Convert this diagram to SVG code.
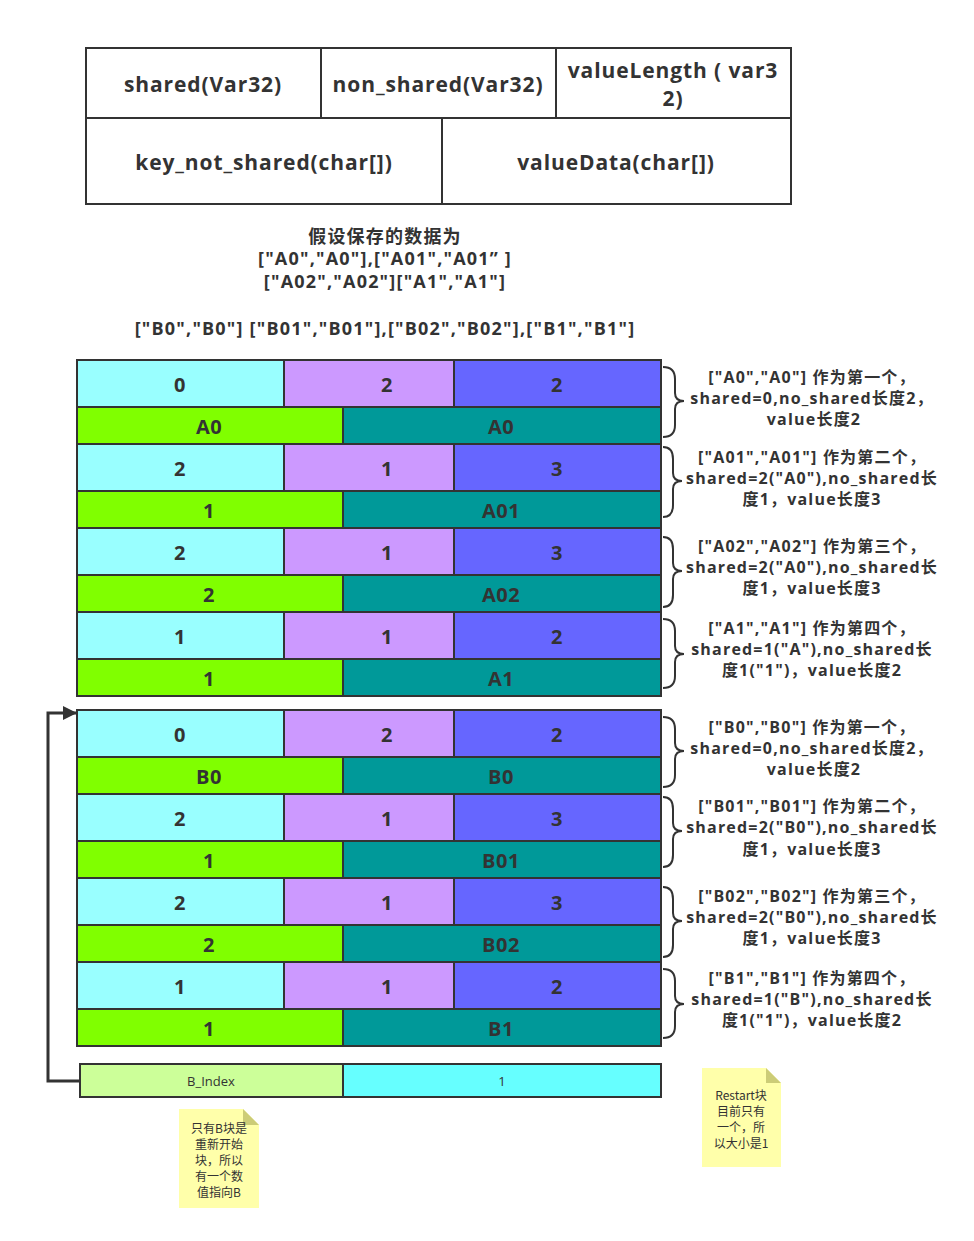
<svg xmlns="http://www.w3.org/2000/svg" width="974" height="1241" viewBox="0 0 974 1241">
<defs>
<style>
.t{font-family:"Open Sans","Noto Sans CJK SC",sans-serif;fill:#333;text-anchor:middle;dominant-baseline:central}
.b{font-weight:bold}
.hd{font-size:21px;letter-spacing:0.9px}
.cell{font-size:20px;letter-spacing:0.5px}
.ann{font-size:16px;letter-spacing:1.2px}
.ttl{font-size:18px;letter-spacing:1.2px}
.note{font-size:12px;font-family:"Noto Sans CJK SC","Open Sans",sans-serif}
.bx{stroke:#333;stroke-width:2}
.c1{fill:#99FFFF}.c2{fill:#CC99FF}.c3{fill:#6666FF}.c4{fill:#80FF00}.c5{fill:#009999}
.br{fill:none;stroke:#333;stroke-width:2}
</style>
<marker id="ah" viewBox="0 0 10 10" refX="10" refY="5" markerWidth="14" markerHeight="14" markerUnits="userSpaceOnUse" orient="auto"><path d="M0,0 L10,5 L0,10 z" fill="#333"/></marker>
</defs>
<rect width="974" height="1241" fill="#fff"/>

<g id="header">
<rect x="86" y="48" width="705" height="156" fill="#fff" class="bx"/>
<line x1="86" y1="118" x2="791" y2="118" class="bx"/>
<line x1="321" y1="48" x2="321" y2="118" class="bx"/>
<line x1="556" y1="48" x2="556" y2="118" class="bx"/>
<line x1="442" y1="118" x2="442" y2="204" class="bx"/>
<text class="t b hd" x="203" y="84">shared(Var32)</text>
<text class="t b hd" x="438" y="84">non_shared(Var32)</text>
<text class="t b hd" x="673" y="70">valueLength ( var3</text>
<text class="t b hd" x="673" y="98">2)</text>
<text class="t b hd" x="264" y="162">key_not_shared(char[])</text>
<text class="t b hd" x="616" y="162">valueData(char[])</text>
</g>

<g id="title">
<text class="t b ttl" x="385" y="236">假设保存的数据为</text>
<text class="t b ttl" x="385" y="258">["A0","A0"],["A01","A01” ]</text>
<text class="t b ttl" x="385" y="281">["A02","A02"]["A1","A1"]</text>
<text class="t b ttl" x="385" y="328">["B0","B0"] ["B01","B01"],["B02","B02"],["B1","B1"]</text>
</g>

<g id="blockA">
<g id="A0">
<rect x="77" y="360" width="207" height="47" class="bx c1"/><rect x="284" y="360" width="170" height="47" class="bx c2"/><rect x="454" y="360" width="207" height="47" class="bx c3"/>
<rect x="77" y="407" width="266" height="37" class="bx c4"/><rect x="343" y="407" width="318" height="37" class="bx c5"/>
<text class="t b cell" x="180" y="384">0</text><text class="t b cell" x="387" y="384">2</text><text class="t b cell" x="557" y="384">2</text>
<text class="t b cell" x="209" y="426">A0</text><text class="t b cell" x="501" y="426">A0</text>
</g>
<g id="A01">
<rect x="77" y="444" width="207" height="47" class="bx c1"/><rect x="284" y="444" width="170" height="47" class="bx c2"/><rect x="454" y="444" width="207" height="47" class="bx c3"/>
<rect x="77" y="491" width="266" height="37" class="bx c4"/><rect x="343" y="491" width="318" height="37" class="bx c5"/>
<text class="t b cell" x="180" y="468">2</text><text class="t b cell" x="387" y="468">1</text><text class="t b cell" x="557" y="468">3</text>
<text class="t b cell" x="209" y="510">1</text><text class="t b cell" x="501" y="510">A01</text>
</g>
<g id="A02">
<rect x="77" y="528" width="207" height="47" class="bx c1"/><rect x="284" y="528" width="170" height="47" class="bx c2"/><rect x="454" y="528" width="207" height="47" class="bx c3"/>
<rect x="77" y="575" width="266" height="37" class="bx c4"/><rect x="343" y="575" width="318" height="37" class="bx c5"/>
<text class="t b cell" x="180" y="552">2</text><text class="t b cell" x="387" y="552">1</text><text class="t b cell" x="557" y="552">3</text>
<text class="t b cell" x="209" y="594">2</text><text class="t b cell" x="501" y="594">A02</text>
</g>
<g id="A1">
<rect x="77" y="612" width="207" height="47" class="bx c1"/><rect x="284" y="612" width="170" height="47" class="bx c2"/><rect x="454" y="612" width="207" height="47" class="bx c3"/>
<rect x="77" y="659" width="266" height="37" class="bx c4"/><rect x="343" y="659" width="318" height="37" class="bx c5"/>
<text class="t b cell" x="180" y="636">1</text><text class="t b cell" x="387" y="636">1</text><text class="t b cell" x="557" y="636">2</text>
<text class="t b cell" x="209" y="678">1</text><text class="t b cell" x="501" y="678">A1</text>
</g>
</g>

<g id="blockB">
<g id="B0">
<rect x="77" y="710" width="207" height="47" class="bx c1"/><rect x="284" y="710" width="170" height="47" class="bx c2"/><rect x="454" y="710" width="207" height="47" class="bx c3"/>
<rect x="77" y="757" width="266" height="37" class="bx c4"/><rect x="343" y="757" width="318" height="37" class="bx c5"/>
<text class="t b cell" x="180" y="734">0</text><text class="t b cell" x="387" y="734">2</text><text class="t b cell" x="557" y="734">2</text>
<text class="t b cell" x="209" y="776">B0</text><text class="t b cell" x="501" y="776">B0</text>
</g>
<g id="B01">
<rect x="77" y="794" width="207" height="47" class="bx c1"/><rect x="284" y="794" width="170" height="47" class="bx c2"/><rect x="454" y="794" width="207" height="47" class="bx c3"/>
<rect x="77" y="841" width="266" height="37" class="bx c4"/><rect x="343" y="841" width="318" height="37" class="bx c5"/>
<text class="t b cell" x="180" y="818">2</text><text class="t b cell" x="387" y="818">1</text><text class="t b cell" x="557" y="818">3</text>
<text class="t b cell" x="209" y="860">1</text><text class="t b cell" x="501" y="860">B01</text>
</g>
<g id="B02">
<rect x="77" y="878" width="207" height="47" class="bx c1"/><rect x="284" y="878" width="170" height="47" class="bx c2"/><rect x="454" y="878" width="207" height="47" class="bx c3"/>
<rect x="77" y="925" width="266" height="37" class="bx c4"/><rect x="343" y="925" width="318" height="37" class="bx c5"/>
<text class="t b cell" x="180" y="902">2</text><text class="t b cell" x="387" y="902">1</text><text class="t b cell" x="557" y="902">3</text>
<text class="t b cell" x="209" y="944">2</text><text class="t b cell" x="501" y="944">B02</text>
</g>
<g id="B1">
<rect x="77" y="962" width="207" height="47" class="bx c1"/><rect x="284" y="962" width="170" height="47" class="bx c2"/><rect x="454" y="962" width="207" height="47" class="bx c3"/>
<rect x="77" y="1009" width="266" height="37" class="bx c4"/><rect x="343" y="1009" width="318" height="37" class="bx c5"/>
<text class="t b cell" x="180" y="986">1</text><text class="t b cell" x="387" y="986">1</text><text class="t b cell" x="557" y="986">2</text>
<text class="t b cell" x="209" y="1028">1</text><text class="t b cell" x="501" y="1028">B1</text>
</g>
</g>

<g id="index">
<rect x="80" y="1064" width="263" height="33" fill="#CCFF99" class="bx"/>
<rect x="343" y="1064" width="318" height="33" fill="#66FFFF" class="bx"/>
<text class="t" x="211" y="1081" style="font-size:13px">B_Index</text>
<text class="t" x="502" y="1081" style="font-size:13px">1</text>
</g>

<g id="annotations">
<path class="br" d="M663,367 Q675,367 675,379 L675,393 Q675,401 684,401 Q675,401 675,409 L675,425 Q675,437 663,437"/>
<text class="t b ann" x="812" y="377">["A0","A0"] 作为第一个，</text>
<text class="t b ann" x="812" y="398">shared=0,no_shared长度2，</text>
<text class="t b ann" x="814" y="419">value长度2</text>
<path class="br" d="M663,447 Q673,447 673,459 L673,473 Q673,481 682,481 Q673,481 673,489 L673,505 Q673,517 663,517"/>
<text class="t b ann" x="812" y="457">["A01","A01"] 作为第二个，</text>
<text class="t b ann" x="812" y="478">shared=2("A0"),no_shared长</text>
<text class="t b ann" x="812" y="499">度1，value长度3</text>
<path class="br" d="M663,537 Q673,537 673,549 L673,563 Q673,571 682,571 Q673,571 673,579 L673,595 Q673,607 663,607"/>
<text class="t b ann" x="812" y="546">["A02","A02"] 作为第三个，</text>
<text class="t b ann" x="812" y="567">shared=2("A0"),no_shared长</text>
<text class="t b ann" x="812" y="588">度1，value长度3</text>
<path class="br" d="M663,619 Q675,619 675,631 L675,646 Q675,654 684,654 Q675,654 675,662 L675,676 Q675,688 663,688"/>
<text class="t b ann" x="812" y="628">["A1","A1"] 作为第四个，</text>
<text class="t b ann" x="812" y="649">shared=1("A"),no_shared长</text>
<text class="t b ann" x="812" y="670">度1("1")，value长度2</text>

<path class="br" d="M663,717 Q675,717 675,729 L675,743 Q675,751 684,751 Q675,751 675,759 L675,775 Q675,787 663,787"/>
<text class="t b ann" x="812" y="727">["B0","B0"] 作为第一个，</text>
<text class="t b ann" x="812" y="748">shared=0,no_shared长度2，</text>
<text class="t b ann" x="814" y="769">value长度2</text>
<path class="br" d="M663,797 Q673,797 673,809 L673,823 Q673,831 682,831 Q673,831 673,839 L673,855 Q673,867 663,867"/>
<text class="t b ann" x="812" y="806">["B01","B01"] 作为第二个，</text>
<text class="t b ann" x="812" y="827">shared=2("B0"),no_shared长</text>
<text class="t b ann" x="812" y="849">度1，value长度3</text>
<path class="br" d="M663,887 Q673,887 673,899 L673,913 Q673,921 682,921 Q673,921 673,929 L673,945 Q673,957 663,957"/>
<text class="t b ann" x="812" y="896">["B02","B02"] 作为第三个，</text>
<text class="t b ann" x="812" y="917">shared=2("B0"),no_shared长</text>
<text class="t b ann" x="812" y="938">度1，value长度3</text>
<path class="br" d="M663,969 Q675,969 675,981 L675,996 Q675,1004 684,1004 Q675,1004 675,1012 L675,1026 Q675,1038 663,1038"/>
<text class="t b ann" x="812" y="978">["B1","B1"] 作为第四个，</text>
<text class="t b ann" x="812" y="999">shared=1("B"),no_shared长</text>
<text class="t b ann" x="812" y="1020">度1("1")，value长度2</text>
</g>

<g id="connectors">
<polyline points="80,1081 48,1081 48,713 77,713" fill="none" stroke="#333" stroke-width="3" marker-end="url(#ah)"/>
</g>

<g id="note1">
<polygon points="179,1109 243,1109 259,1125 259,1208 179,1208" fill="#FFFFAA"/>
<polygon points="243,1109 259,1125 243,1125" fill="#CCCC77"/>
<text class="t note" x="219" y="1127">只有B块是</text>
<text class="t note" x="219" y="1143">重新开始</text>
<text class="t note" x="219" y="1159">块，所以</text>
<text class="t note" x="219" y="1175">有一个数</text>
<text class="t note" x="219" y="1191">值指向B</text>
</g>
<g id="note2">
<polygon points="702,1068 766,1068 781,1083 781,1167 702,1167" fill="#FFFFAA"/>
<polygon points="766,1068 781,1083 766,1083" fill="#CCCC77"/>
<text class="t note" x="741" y="1094">Restart块</text>
<text class="t note" x="741" y="1110">目前只有</text>
<text class="t note" x="741" y="1126">一个，所</text>
<text class="t note" x="741" y="1142">以大小是1</text>
</g>
</svg>
